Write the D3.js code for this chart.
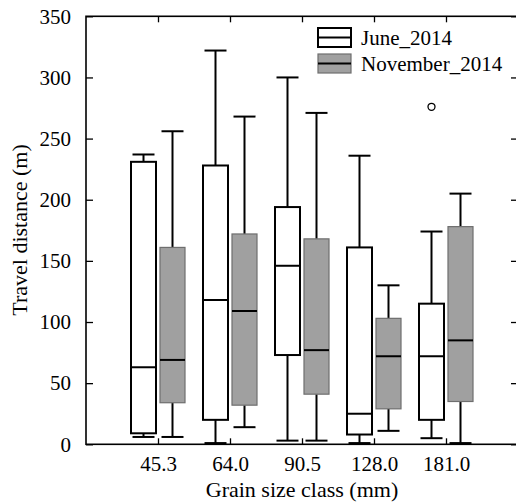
<!DOCTYPE html>
<html><head><meta charset="utf-8">
<script src="https://cdn.jsdelivr.net/npm/d3@7"></script>
</head><body style="margin:0;background:#fff"><svg id="c" width="516" height="504" font-family="Liberation Serif" style="display:block;font-family:'Liberation Serif'"></svg>
<script>
const categories = ["45.3","64.0","90.5","128.0","181.0"];
const seriesNames = ["June_2014","November_2014"];
// [whiskerLow, q1, median, q3, whiskerHigh]
const june = [
  [6, 9, 63, 231, 237],
  [1, 20, 118, 228, 322],
  [3, 73, 146, 194, 300],
  [1, 8, 25, 161, 236],
  [5, 20, 72, 115, 174]
];
const november = [
  [6, 34, 69, 161, 256],
  [14, 32, 109, 172, 268],
  [3, 41, 77, 168, 271],
  [11, 29, 72, 103, 130],
  [1, 35, 85, 178, 205]
];
const juneOutliers = [[], [], [], [], [276]];
const novemberOutliers = [[], [], [], [], []];
const yTicks = [0,50,100,150,200,250,300,350];

const fs = 21;
const svg = d3.select("#c");
const L = 86, R = 518, T = 16.3, B = 444.3;
const x = d3.scaleLinear().domain([0, categories.length + 1]).range([L, R]);
const y = d3.scaleLinear().domain([0, 350]).range([B, T]);

const styles = [
  {fill:"#fff", stroke:"#000", sw:2, off:-14.5, out:juneOutliers, data:june},
  {fill:"#a0a0a0", stroke:"#6e6e6e", sw:1.2, off:14.5, out:novemberOutliers, data:november}
];
const bw = 25, cw = 22;

styles.forEach(s => {
  const g = svg.append("g");
  s.data.forEach((d, i) => {
    const cx = x(i + 1) + s.off;
    g.append("line").attr("x1",cx).attr("x2",cx).attr("y1",y(d[0])).attr("y2",y(d[1])).attr("stroke","#000").attr("stroke-width",2);
    g.append("line").attr("x1",cx).attr("x2",cx).attr("y1",y(d[3])).attr("y2",y(d[4])).attr("stroke","#000").attr("stroke-width",2);
    g.append("line").attr("x1",cx-cw/2).attr("x2",cx+cw/2).attr("y1",y(d[0])).attr("y2",y(d[0])).attr("stroke","#000").attr("stroke-width",2);
    g.append("line").attr("x1",cx-cw/2).attr("x2",cx+cw/2).attr("y1",y(d[4])).attr("y2",y(d[4])).attr("stroke","#000").attr("stroke-width",2);
    g.append("rect").attr("x",cx-bw/2).attr("width",bw).attr("y",y(d[3])).attr("height",y(d[1])-y(d[3]))
      .attr("fill",s.fill).attr("stroke",s.stroke).attr("stroke-width",s.sw);
    g.append("line").attr("x1",cx-bw/2).attr("x2",cx+bw/2).attr("y1",y(d[2])).attr("y2",y(d[2])).attr("stroke","#000").attr("stroke-width",2);
    s.out[i].forEach(o => {
      g.append("circle").attr("cx",cx).attr("cy",y(o)).attr("r",3.5).attr("fill","none").attr("stroke","#000").attr("stroke-width",1.3);
    });
  });
});

svg.append("rect").attr("x",L).attr("y",T).attr("width",R-L).attr("height",B-T).attr("fill","none").attr("stroke","#000").attr("stroke-width",1.6);

function styleText(sel, size){
  sel.attr("font-family","Liberation Serif").attr("font-size",size || fs).attr("fill","#000")
     .style("font-family","\"Liberation Serif\"");
}

function fixAxis(g){
  g.attr("font-family",null).attr("font-size",null);
  g.select(".domain").remove();
  g.selectAll("line").attr("stroke","#000").attr("stroke-width",1.3);
  styleText(g.selectAll("text"));
}

const gy = svg.append("g").attr("transform",`translate(${L},0)`)
  .call(d3.axisLeft(y).tickValues(yTicks).tickSizeInner(-7).tickSizeOuter(0).tickPadding(15).tickFormat(d3.format("d")));
fixAxis(gy);

const gyr = svg.append("g").attr("transform",`translate(${R},0)`)
  .call(d3.axisRight(y).tickValues(yTicks).tickSizeInner(-7).tickSizeOuter(0).tickFormat(""));
fixAxis(gyr);

const xt = categories.map((c,i)=>i+1);
const gx = svg.append("g").attr("transform",`translate(0,${B})`)
  .call(d3.axisBottom(x).tickValues(xt).tickSizeInner(-6).tickSizeOuter(0).tickPadding(12).tickFormat((d,i)=>categories[i]));
fixAxis(gx);

const gxt = svg.append("g").attr("transform",`translate(0,${T})`)
  .call(d3.axisTop(x).tickValues(xt).tickSizeInner(-6).tickSizeOuter(0).tickFormat(""));
fixAxis(gxt);

styleText(svg.append("text").attr("x",302).attr("y",497).attr("text-anchor","middle").text("Grain size class (mm)"), 22);
styleText(svg.append("text").attr("transform","translate(27,230) rotate(-90)").attr("text-anchor","middle").text("Travel distance (m)"), 22);

const leg = svg.append("g");
[0,1].forEach(k => {
  const yy = 28 + k*26;
  leg.append("rect").attr("x",318).attr("y",yy).attr("width",33).attr("height",19)
    .attr("fill",styles[k].fill).attr("stroke",k===0?"#000":"#6e6e6e").attr("stroke-width",k===0?2:1.2);
  leg.append("line").attr("x1",318).attr("x2",351).attr("y1",yy+9.5).attr("y2",yy+9.5).attr("stroke","#000").attr("stroke-width",2);
  styleText(leg.append("text").attr("x",361).attr("y",yy+17).text(seriesNames[k]));
});
</script></body></html>
